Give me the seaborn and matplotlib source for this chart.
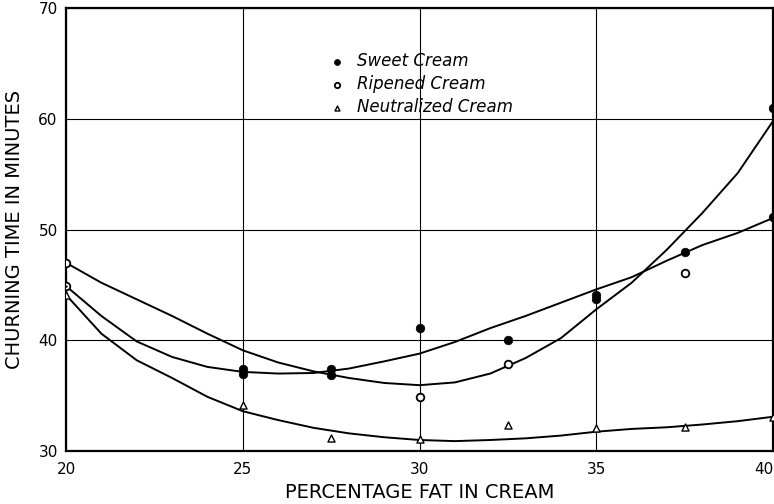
import matplotlib
matplotlib.use("Agg")
import matplotlib.pyplot as plt
import seaborn as sns

# -------------------
# Data
# -------------------
# smooth curves (values read at each whole percent)
curve_x = [20, 21, 22, 23, 24, 25, 26, 27, 28, 29, 30,
           31, 32, 33, 34, 35, 36, 37, 38, 39, 40]
ripened_curve = [47.0, 45.2, 43.7, 42.2, 40.6, 39.1, 38.0, 37.2, 36.6, 36.15, 35.95,
                 36.2, 37.0, 38.4, 40.2, 42.8, 45.2, 48.2, 51.5, 55.1, 59.8]
sweet_curve = [44.9, 42.2, 39.9, 38.5, 37.6, 37.15, 37.0, 37.05, 37.45, 38.1, 38.8,
               39.85, 41.1, 42.2, 43.4, 44.6, 45.7, 47.2, 48.6, 49.7, 51.05]
neutral_curve = [44.1, 40.6, 38.2, 36.6, 34.9, 33.6, 32.8, 32.1, 31.6, 31.25, 31.0,
                 30.9, 31.0, 31.15, 31.4, 31.75, 32.0, 32.15, 32.4, 32.7, 33.1]

# observations
sweet_x = [25, 25, 27.5, 27.5, 30, 32.5, 35, 35, 37.5, 40, 40]
sweet_y = [37.4, 37.0, 37.4, 36.9, 41.1, 40.0, 44.1, 43.7, 48.0, 61.0, 51.1]
ripened_x = [20, 20, 30, 32.5, 37.5]
ripened_y = [47.0, 44.9, 34.85, 37.85, 46.1]
neutral_x = [20, 25, 27.5, 30, 32.5, 35, 37.5, 40]
neutral_y = [44.1, 34.15, 31.15, 31.1, 32.35, 32.05, 32.2, 33.1]
# small dot inside the open circle at 20 %
center_x = [20]
center_y = [44.9]

x_ticks = [20, 25, 30, 35, 40]
y_ticks = [30, 40, 50, 60, 70]

# -------------------
# Plot
# -------------------
sns.set_theme(style="white")
plt.rcParams['font.family'] = ['DejaVu Sans']

fig = plt.figure(figsize=(7.74, 5.04), dpi=100)
ax = fig.add_axes([0.0853, 0.105, 0.9135, 0.879])

for curve in [ripened_curve, sweet_curve, neutral_curve]:
    sns.lineplot(x=curve_x, y=curve, color='black', linewidth=1.4, ax=ax,
                 estimator=None, sort=False, zorder=3, solid_joinstyle='round')

sns.scatterplot(x=sweet_x, y=sweet_y, marker='o', s=38, color='black',
                edgecolor='black', linewidth=0.5, ax=ax, zorder=4, label='Sweet Cream')
sns.scatterplot(x=ripened_x, y=ripened_y, marker='o', s=30, facecolor='white',
                edgecolor='black', linewidth=1.3, ax=ax, zorder=4, label='Ripened Cream')
sns.scatterplot(x=neutral_x, y=neutral_y, marker='^', s=26, facecolor='white',
                edgecolor='black', linewidth=1.0, ax=ax, zorder=4, label='Neutralized Cream')
sns.scatterplot(x=center_x, y=center_y, marker='o', s=3, color='black',
                linewidth=0, ax=ax, zorder=5)

ax.set_xlim(20, 40)
ax.set_ylim(30, 70)
ax.set_xticks(x_ticks)
ax.set_yticks(y_ticks)
ax.tick_params(axis='both', length=0, labelsize=11, colors='black')
ax.tick_params(axis='x', pad=8)
ax.tick_params(axis='y', pad=6)
ax.get_xticklabels()[-1].set_horizontalalignment('right')
ax.grid(True, color='black', linewidth=0.8)
ax.set_axisbelow(True)
for side in ['left', 'bottom', 'top', 'right']:
    ax.spines[side].set_visible(True)
    ax.spines[side].set_color('black')
    ax.spines[side].set_linewidth(1.6)

ax.set_xlabel("PERCENTAGE FAT IN CREAM", fontsize=14, labelpad=4, color='black')
ax.set_ylabel("CHURNING TIME IN MINUTES", fontsize=14, labelpad=10, color='black')

leg = ax.legend(loc='upper left', bbox_to_anchor=(0.355, 0.915), frameon=False,
                fontsize=12, handletextpad=0.4, handlelength=1.6, labelspacing=0.3,
                markerscale=0.7, borderaxespad=0)
for t in leg.get_texts():
    t.set_fontstyle('italic')
    t.set_color('black')
leg.set_zorder(6)

plt.savefig("out.png", dpi=100)
plt.close()
